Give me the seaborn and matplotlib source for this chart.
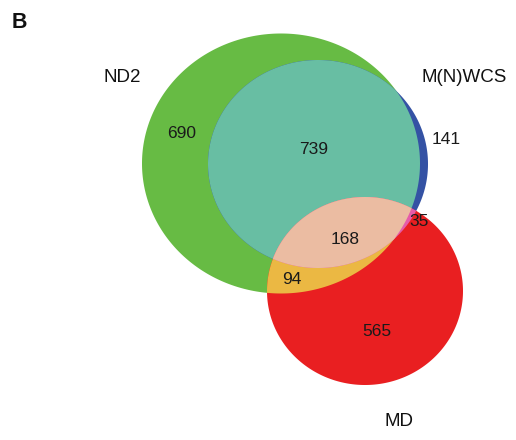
import numpy as np
import matplotlib
matplotlib.use("Agg")
import matplotlib.pyplot as plt
from matplotlib.patches import Polygon
import seaborn as sns

# Set names and exclusive region counts
set_names = ["ND2", "M(N)WCS", "MD"]
only_nd2 = 690
nd2_mnwcs = 739
only_mnwcs = 141
all_three = 168
mnwcs_md = 35
nd2_md = 94
only_md = 565

# Layout of the three ellipses in pixel space (cx, cy, rx, ry)
shapes = {
    "ND2": (281, 163.5, 139, 130),
    "M(N)WCS": (318, 164, 110, 104),
    "MD": (365, 291, 98, 94),
}

region_colors = {
    "ND2": "#67bb44",
    "M(N)WCS": "#3452a4",
    "MD": "#e91f21",
    "ND2&M(N)WCS": "#68bea3",
    "ND2&MD": "#ebb843",
    "M(N)WCS&MD": "#e65ba9",
    "ALL": "#ebbca2",
}


def ellipse_poly(cx, cy, rx, ry, n=500):
    t = np.linspace(0, 2 * np.pi, n, endpoint=False)
    return np.column_stack([cx + rx * np.cos(t), cy + ry * np.sin(t)])


def clip(subject, clipper):
    """Sutherland-Hodgman clipping of a polygon by a convex polygon."""
    def inside(p, a, b, s):
        return s * ((b[0] - a[0]) * (p[1] - a[1]) - (b[1] - a[1]) * (p[0] - a[0])) >= 0

    def inter(p1, p2, a, b):
        d1 = p2 - p1
        d2 = b - a
        den = d1[0] * d2[1] - d1[1] * d2[0]
        t = ((a[0] - p1[0]) * d2[1] - (a[1] - p1[1]) * d2[0]) / den
        return p1 + t * d1

    x, y = clipper[:, 0], clipper[:, 1]
    area = np.sum(x * np.roll(y, -1) - np.roll(x, -1) * y)
    s = 1 if area > 0 else -1
    out = list(subject)
    for i in range(len(clipper)):
        a, b = clipper[i], clipper[(i + 1) % len(clipper)]
        inp = out
        out = []
        if not inp:
            break
        prev = inp[-1]
        for cur in inp:
            if inside(cur, a, b, s):
                if not inside(prev, a, b, s):
                    out.append(inter(prev, cur, a, b))
                out.append(cur)
            elif inside(prev, a, b, s):
                out.append(inter(prev, cur, a, b))
            prev = cur
    return np.array(out)


sns.set_theme(style="white")
plt.rcParams["font.family"] = ["Liberation Sans", "DejaVu Sans"]

fig = plt.figure(figsize=(5.16, 4.40), dpi=100)
ax = fig.add_axes([0, 0, 1, 1])
ax.set_xlim(0, 516)
ax.set_ylim(440, 0)
ax.set_aspect("equal")
ax.axis("off")

pA = ellipse_poly(*shapes["ND2"])
pB = ellipse_poly(*shapes["M(N)WCS"])
pC = ellipse_poly(*shapes["MD"])
pAB = clip(pA, pB)
pAC = clip(pA, pC)
pBC = clip(pB, pC)
pABC = clip(pAB, pC)

for poly, key in [(pA, "ND2"), (pB, "M(N)WCS"), (pC, "MD"),
                  (pAB, "ND2&M(N)WCS"), (pAC, "ND2&MD"),
                  (pBC, "M(N)WCS&MD"), (pABC, "ALL")]:
    ax.add_patch(Polygon(poly, closed=True, facecolor=region_colors[key],
                         edgecolor="none", antialiased=True))

# Region counts
counts = [
    (only_nd2, 182, 134),
    (nd2_mnwcs, 314, 149),
    (only_mnwcs, 446, 140),
    (all_three, 345, 239),
    (mnwcs_md, 419, 222),
    (nd2_md, 292, 279),
    (only_md, 377, 331),
]
for val, x, y in counts:
    ax.text(x, y, str(val), ha="center", va="center", fontsize=12.5, color="#1a1a1a")

# Set labels
label_pos = [(122, 78), (464, 78), (399, 421)]
for name, (x, y) in zip(set_names, label_pos):
    ax.text(x, y, name, ha="center", va="center", fontsize=13.5, color="#111111")

ax.text(12, 22, "B", ha="left", va="center", fontsize=15.5, fontweight="bold", color="#111111")

fig.savefig("out.png", dpi=100)
